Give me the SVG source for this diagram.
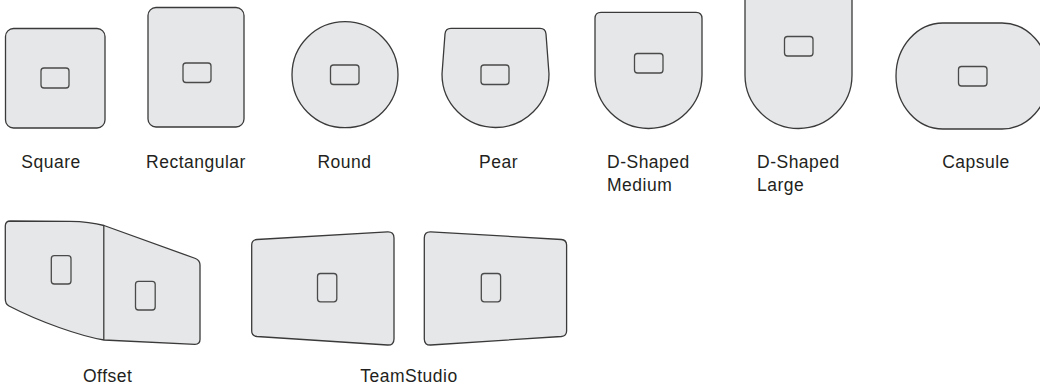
<svg xmlns="http://www.w3.org/2000/svg" width="1040" height="386" viewBox="0 0 1040 386">
<style>
.shape{fill:#e6e7e8;stroke:#3a3a3a;stroke-width:1.3;stroke-linejoin:round}
.btn{fill:#e6e7e8;stroke:#4a4a4a;stroke-width:1.3}
.lbl{font-family:"Liberation Sans",Arial,sans-serif;font-size:17.5px;fill:#231f20;letter-spacing:0.5px}
.mid{text-anchor:middle}
</style>
<rect width="1040" height="386" fill="#ffffff"/>
<g id="square">
<rect class="shape" x="5.5" y="28.5" width="99.5" height="99.5" rx="8"/>
<rect class="btn" x="41" y="68" width="28" height="20" rx="3"/>
<text class="lbl mid" x="51" y="168">Square</text>
</g>
<g id="rectangular">
<rect class="shape" x="148" y="7.5" width="96" height="119.5" rx="8"/>
<rect class="btn" x="183" y="63" width="28" height="19.5" rx="3"/>
<text class="lbl mid" x="196" y="168">Rectangular</text>
</g>
<g id="round">
<circle class="shape" cx="345" cy="74.7" r="53"/>
<rect class="btn" x="330.5" y="65" width="28.5" height="19.5" rx="3"/>
<text class="lbl mid" x="344.5" y="168">Round</text>
</g>
<g id="pear">
<path class="shape" d="M451,28.3 L540,28.3 Q545.5,28.3 546,34 L549,74 A53.5,53.5 0 0 1 442,74 L445,34 Q445.5,28.3 451,28.3 Z"/>
<rect class="btn" x="481" y="65" width="28" height="19.5" rx="3"/>
<text class="lbl mid" x="498.5" y="168">Pear</text>
</g>
<g id="d-shaped-medium">
<path class="shape" d="M601,12.3 L696,12.3 Q702,12.3 702,18.5 L702,75 A53.5,53.5 0 0 1 595,75 L595,18.5 Q595,12.3 601,12.3 Z"/>
<rect class="btn" x="634.5" y="53.5" width="28.5" height="19.5" rx="3"/>
<text class="lbl" x="607" y="168.3">D-Shaped</text>
<text class="lbl" x="607" y="190.8">Medium</text>
</g>
<g id="d-shaped-large">
<path class="shape" d="M745,-10 L852,-10 L852,75 A53.5,53.5 0 0 1 745,75 Z"/>
<rect class="btn" x="784.5" y="36.5" width="28.5" height="19.5" rx="3"/>
<text class="lbl" x="757" y="168.3">D-Shaped</text>
<text class="lbl" x="757" y="190.8">Large</text>
</g>
<g id="capsule">
<rect class="shape" x="896" y="23" width="153" height="106" rx="47" ry="53"/>
<rect class="btn" x="958.5" y="66.5" width="28.5" height="19.5" rx="3"/>
<text class="lbl mid" x="976" y="168.3">Capsule</text>
</g>
<g id="offset">
<path class="shape" d="M10.5,221 L70,221.3 C85,221.5 95,223 104,225.5 L195.5,258.5 Q200,260.5 200,265 L200,339.5 Q200,344.3 195,344.3 L104,340 C80,336 40,322 9,306 Q5.3,304 5.3,299 L5.3,226 Q5.3,221 10.5,221 Z"/>
<line class="shape" x1="103.8" y1="225.3" x2="103.8" y2="340"/>
<rect class="btn" x="51.3" y="255.7" width="19.7" height="28.3" rx="3"/>
<rect class="btn" x="135.5" y="281.3" width="19.7" height="28.7" rx="3"/>
<text class="lbl mid" x="107.7" y="382">Offset</text>
</g>
<g id="teamstudio">
<path class="shape" d="M257,239.5 L387.5,231.8 Q394,231.5 394,238 L394,339 Q394,345.3 387.5,345 L257,336.5 Q251.7,336 251.7,331 L251.7,245 Q251.7,240 257,239.5 Z"/>
<path class="shape" d="M561.3,239.5 L430.8,231.8 Q424.3,231.5 424.3,238 L424.3,339 Q424.3,345.3 430.8,345 L561.3,336.5 Q566.6,336 566.6,331 L566.6,245 Q566.6,240 561.3,239.5 Z"/>
<rect class="btn" x="317.5" y="273.5" width="19.3" height="28.3" rx="3"/>
<rect class="btn" x="481.3" y="273.5" width="19.3" height="28.3" rx="3"/>
<text class="lbl mid" x="409" y="382">TeamStudio</text>
</g>
<g id="connectors"></g>
</svg>
